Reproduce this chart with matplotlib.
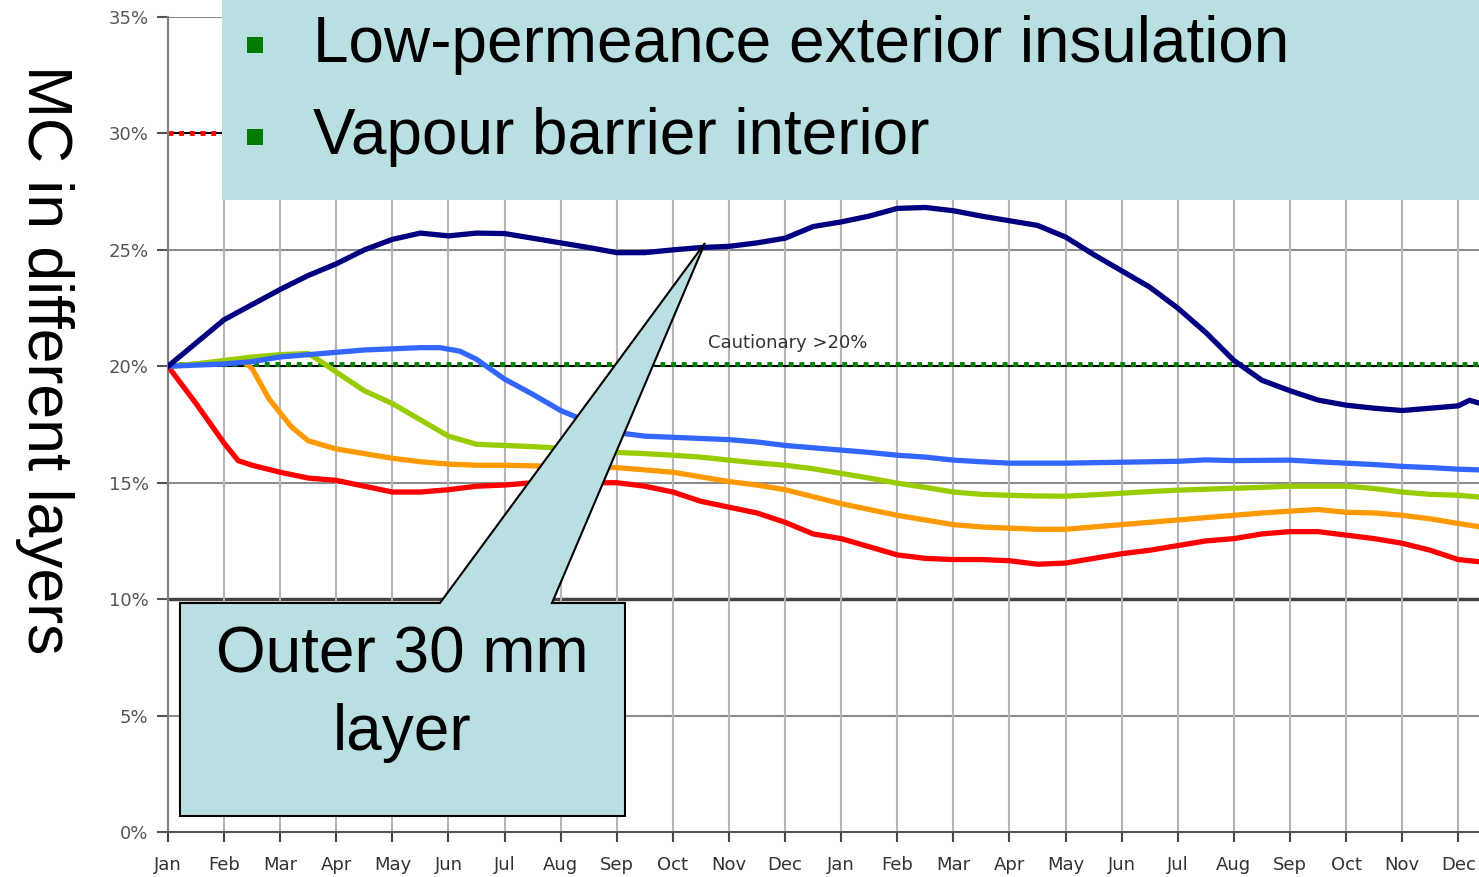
import matplotlib.pyplot as plt
from matplotlib.patches import Rectangle, Polygon

# month index: 0 = Jan of year 1, 12 = Jan of year 2
month_labels = ["Jan", "Feb", "Mar", "Apr", "May", "Jun", "Jul", "Aug", "Sep", "Oct", "Nov", "Dec",
                "Jan", "Feb", "Mar", "Apr", "May", "Jun", "Jul", "Aug", "Sep", "Oct", "Nov", "Dec"]
y_ticks = [0, 5, 10, 15, 20, 25, 30, 35]
y_tick_labels = ["0%", "5%", "10%", "15%", "20%", "25%", "30%", "35%"]

navy_x = [0, 0.5, 1.0, 1.5, 2.0, 2.5, 3.0, 3.5, 4.0, 4.5, 5.0, 5.5, 6.0, 6.5, 7.0, 7.5, 8.0, 8.5,
          9.0, 9.5, 10.0, 10.5, 11.0, 11.5, 12.0, 12.5, 13.0, 13.5, 14.0, 14.5, 15.0, 15.5, 16.0,
          16.5, 17.0, 17.5, 18.0, 18.5, 19.0, 19.5, 20.0, 20.5, 21.0, 21.5, 22.0, 22.5, 23.0, 23.2, 23.4]
navy_y = [20.0, 21.0, 22.0, 22.65, 23.3, 23.9, 24.4, 25.0, 25.45, 25.72, 25.6, 25.72, 25.7, 25.5,
          25.3, 25.1, 24.88, 24.88, 25.0, 25.1, 25.15, 25.3, 25.5, 26.0, 26.2, 26.45, 26.78, 26.82,
          26.68, 26.45, 26.25, 26.05, 25.55, 24.8, 24.1, 23.4, 22.5, 21.45, 20.25, 19.4, 18.95, 18.55,
          18.33, 18.2, 18.1, 18.2, 18.3, 18.54, 18.4]

blue_x = [0, 0.5, 1.0, 1.5, 2.0, 2.5, 3.0, 3.5, 4.0, 4.5, 4.85, 5.2, 5.5, 6.0, 6.5, 7.0, 7.5, 8.0,
          8.5, 9.0, 9.5, 10.0, 10.5, 11.0, 11.5, 12.0, 12.5, 13.0, 13.5, 14.0, 14.5, 15.0, 16.0,
          17.0, 17.5, 18.0, 18.5, 19.0, 20.0, 20.5, 21.0, 21.5, 22.0, 22.5, 23.0, 23.4]
blue_y = [20.0, 20.05, 20.1, 20.2, 20.4, 20.5, 20.6, 20.7, 20.75, 20.8, 20.8, 20.65, 20.3, 19.45,
          18.8, 18.1, 17.6, 17.15, 17.0, 16.95, 16.9, 16.85, 16.75, 16.6, 16.5, 16.4, 16.3, 16.18,
          16.1, 15.97, 15.9, 15.84, 15.84, 15.88, 15.9, 15.92, 15.98, 15.95, 15.97, 15.9, 15.84,
          15.78, 15.7, 15.65, 15.58, 15.55]

green_x = [0, 0.5, 1.0, 1.5, 2.0, 2.5, 2.7, 3.0, 3.5, 4.0, 4.5, 5.0, 5.5, 6.0, 6.5, 7.0, 7.5, 8.0,
           8.5, 9.0, 9.5, 10.0, 10.5, 11.0, 11.5, 12.0, 12.5, 13.0, 13.5, 14.0, 14.5, 15.0, 15.5,
           16.0, 16.5, 17.0, 17.5, 18.0, 18.5, 19.0, 19.5, 20.0, 21.0, 21.5, 22.0, 22.5, 23.0, 23.4]
green_y = [20.0, 20.1, 20.25, 20.4, 20.5, 20.55, 20.25, 19.75, 18.95, 18.4, 17.7, 17.0, 16.65, 16.6,
           16.55, 16.48, 16.4, 16.3, 16.25, 16.18, 16.1, 15.97, 15.85, 15.75, 15.6, 15.4, 15.2,
           14.98, 14.8, 14.6, 14.5, 14.46, 14.43, 14.42, 14.48, 14.55, 14.62, 14.68, 14.72, 14.76,
           14.8, 14.85, 14.85, 14.75, 14.6, 14.5, 14.46, 14.38]

orange_x = [0, 0.5, 1.0, 1.3, 1.5, 1.8, 2.2, 2.5, 3.0, 3.5, 4.0, 4.5, 5.0, 5.5, 6.0, 7.0, 8.0, 8.5,
            9.0, 9.5, 10.0, 10.5, 11.0, 11.5, 12.0, 12.5, 13.0, 13.5, 14.0, 14.5, 15.0, 15.5, 16.0,
            16.5, 17.0, 17.5, 18.0, 18.5, 19.0, 19.5, 20.0, 20.5, 21.0, 21.5, 22.0, 22.5, 23.0, 23.4]
orange_y = [20.0, 20.1, 20.2, 20.3, 19.9, 18.6, 17.4, 16.8, 16.45, 16.25, 16.05, 15.9, 15.8, 15.75,
            15.75, 15.7, 15.65, 15.55, 15.45, 15.25, 15.05, 14.9, 14.7, 14.4, 14.1, 13.85, 13.6,
            13.4, 13.2, 13.1, 13.05, 13.0, 13.0, 13.1, 13.2, 13.3, 13.4, 13.5, 13.6, 13.7, 13.78,
            13.85, 13.73, 13.7, 13.6, 13.45, 13.25, 13.1]

red_x = [0, 0.5, 1.0, 1.25, 1.5, 2.0, 2.5, 3.0, 3.5, 4.0, 4.5, 5.0, 5.5, 6.0, 6.5, 7.0, 7.5, 8.0,
         8.5, 9.0, 9.5, 10.0, 10.5, 11.0, 11.5, 12.0, 12.5, 13.0, 13.5, 14.0, 14.5, 15.0, 15.5,
         16.0, 16.5, 17.0, 17.5, 18.0, 18.5, 19.0, 19.5, 20.0, 20.5, 21.0, 21.5, 22.0, 22.5, 23.0, 23.4]
red_y = [20.0, 18.4, 16.7, 15.95, 15.75, 15.45, 15.2, 15.1, 14.85, 14.6, 14.6, 14.7, 14.85, 14.9,
         15.0, 15.0, 15.0, 15.0, 14.85, 14.6, 14.2, 13.95, 13.7, 13.3, 12.8, 12.6, 12.25, 11.9,
         11.75, 11.7, 11.7, 11.65, 11.5, 11.55, 11.75, 11.95, 12.1, 12.3, 12.5, 12.6, 12.8, 12.9,
         12.9, 12.75, 12.6, 12.4, 12.1, 11.7, 11.6]

cautionary_level = 20
critical_level = 30

W, H = 1479, 877
fig = plt.figure(figsize=(W / 100, H / 100), dpi=100)


def fx(x):
    return x / W


def fy(y):
    return 1 - y / H


ax = fig.add_axes([fx(168), fy(832), fx(1479) - fx(168), fy(17) - fy(832)])
ax.set_xlim(0, 23.37)
ax.set_ylim(0, 35)

ax.set_xticks(range(len(month_labels)))
ax.set_xticklabels(month_labels, fontsize=13, color="#333333")
ax.set_yticks(y_ticks)
ax.set_yticklabels(y_tick_labels, fontsize=13, color="#555555")
ax.tick_params(axis="x", length=7, width=1.5, color="#444444", pad=10)
ax.tick_params(axis="y", length=8, width=1.5, color="#555555", pad=6)

ax.grid(axis="x", color="#b5b5b5", linewidth=1.5, zorder=0)
for v in [5, 15, 25, 35]:
    ax.axhline(v, color="#8c8c8c", linewidth=1.5, zorder=1)
ax.axhline(10, color="#444444", linewidth=2.5, zorder=1)

# threshold lines: black line with coloured dots
ax.axhline(cautionary_level, color="black", linewidth=1.5, zorder=2)
ax.axhline(cautionary_level + 0.08, color="#008000", linewidth=3.5, linestyle=(0, (1, 1.2)), zorder=2)
ax.axhline(critical_level, color="black", linewidth=1.5, zorder=2)
ax.axhline(critical_level, color="#ff0000", linewidth=3.5, linestyle=(0, (1, 1.2)), zorder=2)
ax.text(9.63, 21.0, "Cautionary >20%", fontsize=13, color="#333333", va="center", ha="left")

for sp in ["top", "right"]:
    ax.spines[sp].set_visible(False)
ax.spines["left"].set_color("#808080")
ax.spines["left"].set_linewidth(1.5)
ax.spines["bottom"].set_color("#555555")
ax.spines["bottom"].set_linewidth(1.5)

lw = 3.8
ax.plot(red_x, red_y, color="#ff0000", linewidth=lw, zorder=4)
ax.plot(orange_x, orange_y, color="#ff9900", linewidth=lw, zorder=4)
ax.plot(green_x, green_y, color="#99cc00", linewidth=lw, zorder=4)
ax.plot(blue_x, blue_y, color="#3366ff", linewidth=lw, zorder=4)
ax.plot(navy_x, navy_y, color="#000080", linewidth=lw, zorder=5)

# y label
fig.text(fx(44), fy(360), "MC in different layers", rotation=270, ha="center", va="center",
         fontsize=45, family="Liberation Sans")

# legend panel
box_col = "#b9dfe3"
fig.add_artist(Rectangle((fx(222), fy(200)), 1 - fx(222), fy(0) - fy(200), transform=fig.transFigure,
                         facecolor=box_col, edgecolor="none", zorder=10))
for yy, txt in [(45, "Low-permeance exterior insulation"), (137, "Vapour barrier interior")]:
    fig.add_artist(Rectangle((fx(247), fy(yy + 8)), fx(16), 16 / H, transform=fig.transFigure,
                             facecolor="#007a00", edgecolor="none", zorder=11))
    fig.text(fx(313), fy(yy), txt, fontsize=46, family="Liberation Sans", va="center", ha="left",
             zorder=12)

# callout
pts = [(180, 603), (440, 603), (705, 243), (552, 603), (625, 603), (625, 816), (180, 816)]
fig.add_artist(Polygon([(fx(px), fy(py)) for px, py in pts], closed=True, transform=fig.transFigure,
                       facecolor=box_col, edgecolor="black", linewidth=1.5, zorder=10))
fig.text(fx(402), fy(694), "Outer 30 mm\nlayer", fontsize=46, family="Liberation Sans",
         ha="center", va="center", linespacing=1.38, zorder=12)

fig.savefig("out.png", dpi=100)
